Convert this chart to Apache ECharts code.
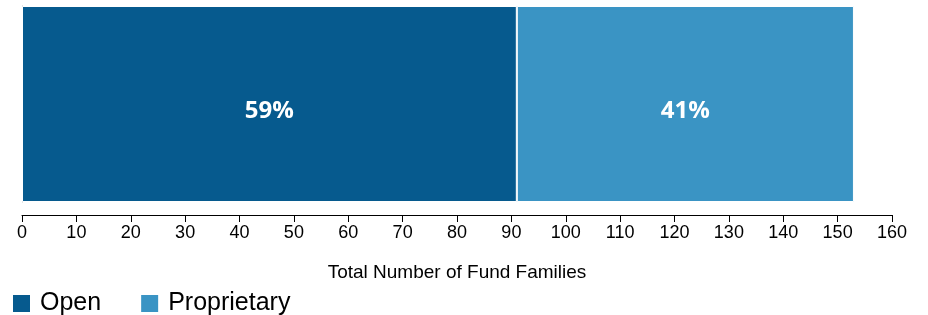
<!DOCTYPE html>
<html lang="en">
<head>
    <meta charset="utf-8">
    <title>Fund Families</title>
    <script src="https://cdnjs.cloudflare.com/ajax/libs/echarts/6.0.0/echarts.min.js"></script>
    <style>
        html, body { margin: 0; padding: 0; background: #fff; }
    </style>
</head>
<body>
<div id="chart" style="width: 928px;height:315px;"></div>
<script type="application/javascript">
    // data
    var categories = ['Fund Families'];
    var seriesNames = ['Open', 'Proprietary'];
    var openValues = [91];
    var proprietaryValues = [62];
    var pctLabels = ['59%', '41%'];
    var xTicks = {min: 0, max: 160, interval: 10};

    var chart = echarts.init(document.getElementById('chart'));

    function barSeries(name, data, color, label) {
        return {
            name: name,
            type: 'bar',
            stack: 'total',
            data: data,
            barWidth: '100%',
            itemStyle: {color: color, borderColor: '#ffffff', borderWidth: 1},
            label: {
                show: true,
                position: 'inside',
                offset: [0, 7],
                formatter: function () { return label; },
                color: '#ffffff',
                fontFamily: 'Open Sans',
                fontWeight: 'bold',
                fontSize: 24
            }
        };
    }

    var option = {
        animation: false,
        grid: {left: 22, right: 36, top: 6, height: 196},
        legend: {
            data: seriesNames,
            left: 11,
            top: 291,
            padding: 0,
            icon: 'rect',
            itemWidth: 19,
            itemHeight: 19,
            itemGap: 38,
            textStyle: {fontFamily: 'Liberation Sans', fontSize: 25, color: '#000', padding: [0, 0, 0, 4]}
        },
        xAxis: {
            type: 'value',
            min: xTicks.min,
            max: xTicks.max,
            interval: xTicks.interval,
            offset: 13,
            name: 'Total Number of Fund Families',
            nameLocation: 'middle',
            nameGap: 48,
            nameTextStyle: {fontFamily: 'Liberation Sans', fontSize: 19, color: '#000'},
            axisLine: {show: true, lineStyle: {color: '#000', width: 1}},
            axisTick: {show: true, length: 7, lineStyle: {color: '#000'}},
            axisLabel: {fontFamily: 'Liberation Sans', fontSize: 18, color: '#000', margin: 9},
            splitLine: {show: false}
        },
        yAxis: {
            type: 'category',
            data: categories,
            axisLine: {show: true, lineStyle: {color: '#bbbbbb'}},
            axisTick: {show: false},
            axisLabel: {show: false}
        },
        series: [
            barSeries(seriesNames[0], openValues, '#065a8e', pctLabels[0]),
            barSeries(seriesNames[1], proprietaryValues, '#3a94c4', pctLabels[1])
        ]
    };

    chart.setOption(option);
</script>
</body>
</html>
